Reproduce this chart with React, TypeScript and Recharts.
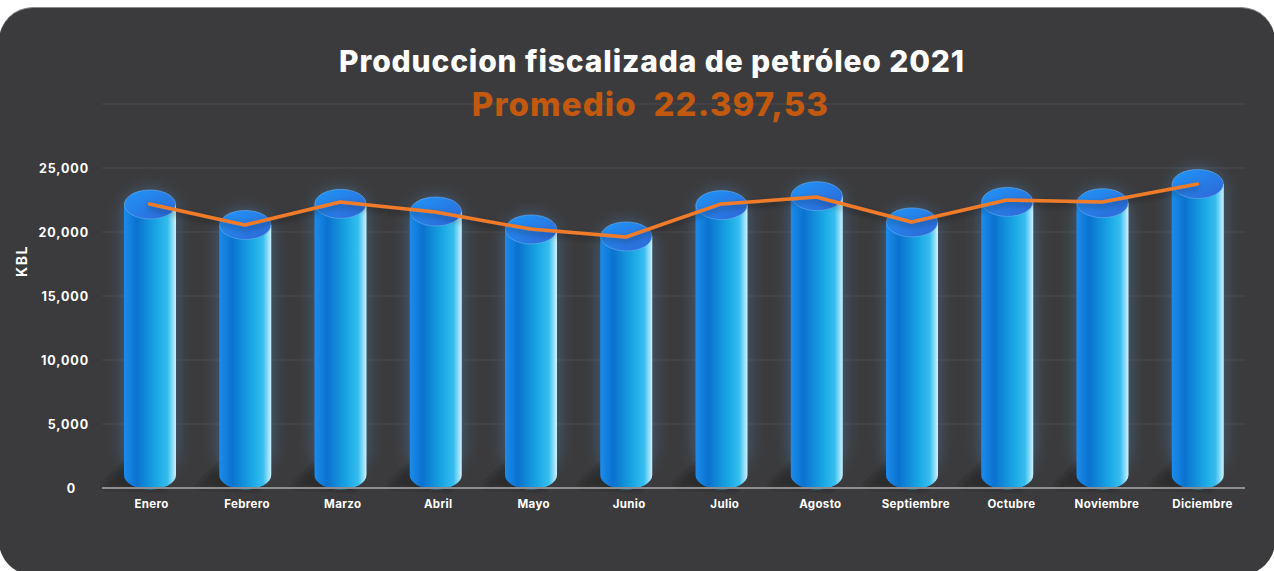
import React from 'react';
import { ComposedChart, Bar, Line, XAxis, YAxis, CartesianGrid } from 'recharts';

const meses = ['Enero', 'Febrero', 'Marzo', 'Abril', 'Mayo', 'Junio', 'Julio', 'Agosto', 'Septiembre', 'Octubre', 'Noviembre', 'Diciembre'];
const barras = [22150, 20550, 22200, 21600, 20200, 19650, 22100, 22800, 20750, 22350, 22250, 23750];
const linea = [22190, 20550, 22340, 21560, 20230, 19610, 22190, 22730, 20780, 22500, 22340, 23750];
const yTicks = [0, 5000, 10000, 15000, 20000, 25000, 30000];

const data = meses.map((mes, i) => ({ mes, barra: barras[i], linea: linea[i] }));

const font = 'Inter, "Open Sans", sans-serif';

// Cilindro 3D: el centro de la tapa queda en el valor
const Cilindro = (props: any) => {
    const { x, y, width, height } = props;
    const rx = width / 2;
    const ry = 14.5;
    const base = y + height - 13;
    const cx = x + rx;
    return (
        <g>
            <path
                d={`M${x + 2},${base - 12} L${x - 22},${base + 10} L${x - 20},${base + 13} L${x + 42},${base + 15} L${x + 40},${base} Z`}
                fill="url(#sombra)"
                filter="url(#blur3)"
            />
            <rect x={x - 2} y={y - ry - 1} width={width + 4} height={base - y + ry} rx={rx} fill="#5cb0ff" opacity={0.28} filter="url(#blur9)" />
            <path
                d={`M${x},${y} L${x},${base} A${rx},${ry} 0 0 0 ${x + width},${base} L${x + width},${y} Z`}
                fill="url(#cuerpo)"
            />
            <ellipse cx={cx} cy={y} rx={rx - 0.4} ry={ry} fill="url(#tapa)" stroke="#6fb4f2" strokeOpacity={0.7} strokeWidth={0.8} />
        </g>
    );
};

const YTick = ({ y, payload }: any) => {
    if (payload.value === 30000) return null;
    return (
        <text
            x={payload.value === 0 ? 76 : 89}
            y={y}
            dy={5}
            textAnchor="end"
            fill="#fff"
            fontFamily={font}
            fontSize={12.5}
            fontWeight={700}
            letterSpacing={0.9}
        >
            {payload.value.toLocaleString('en-US')}
        </text>
    );
};

const XTick = ({ x, y, payload, index }: any) => (
    <text x={x + 2 + index * 0.28} y={y} dy={4} textAnchor="middle" fill="#fff" fontFamily={font} fontSize={11.5} fontWeight={700} letterSpacing={0.35}>
        {payload.value}
    </text>
);

export default function App() {
    return (
        <div style={{ position: 'fixed', left: 0, top: 0, width: 1274, height: 571, overflow: 'hidden', background: '#fff' }}>
            <div
                style={{
                    position: 'absolute',
                    left: -1,
                    top: 7,
                    width: 1276,
                    height: 568,
                    borderRadius: 34,
                    background: '#3b3b3d',
                    borderTop: '1px solid #8a8a8c',
                    boxSizing: 'border-box',
                }}
            />
            <div style={{ position: 'absolute', left: 0, top: 0 }}>
                <ComposedChart width={1274} height={571} data={data} margin={{ top: 104, right: 29, bottom: 53, left: 42 }} barCategoryGap={0}>
                    <defs>
                        <linearGradient id="cuerpo" x1="0" y1="0" x2="1" y2="0">
                            <stop offset="0%" stopColor="#1c8cec" />
                            <stop offset="25%" stopColor="#0a72cf" />
                            <stop offset="62%" stopColor="#18a6e4" />
                            <stop offset="84%" stopColor="#35bdee" />
                            <stop offset="100%" stopColor="#cdf2fd" />
                        </linearGradient>
                        <linearGradient id="tapa" x1="0" y1="0" x2="1" y2="1">
                            <stop offset="0%" stopColor="#1f96f8" />
                            <stop offset="100%" stopColor="#2f66d6" />
                        </linearGradient>
                        <linearGradient id="sombra" x1="0" y1="0" x2="1" y2="0">
                            <stop offset="0%" stopColor="#1f1f20" stopOpacity={0.45} />
                            <stop offset="100%" stopColor="#1f1f20" stopOpacity={0.75} />
                        </linearGradient>
                        <filter id="blur9" x="-60%" y="-20%" width="220%" height="140%">
                            <feGaussianBlur stdDeviation={8} />
                        </filter>
                        <filter id="blur3" x="-30%" y="-30%" width="160%" height="160%">
                            <feGaussianBlur stdDeviation={2} />
                        </filter>
                        <filter id="sombraLinea" x="-5%" y="-50%" width="110%" height="200%">
                            <feDropShadow dx={0} dy={3} stdDeviation={3} floodColor="#000" floodOpacity={0.35} />
                        </filter>
                    </defs>
                    <CartesianGrid vertical={false} stroke="#4b4b4e" strokeWidth={1} />
                    <XAxis
                        dataKey="mes"
                        interval={0}
                        axisLine={{ stroke: '#8e8e90', strokeWidth: 2 }}
                        tickLine={false}
                        tick={<XTick />}
                        tickMargin={10}
                    />
                    <YAxis domain={[0, 30000]} ticks={yTicks} width={60} axisLine={false} tickLine={false} tick={<YTick />} />
                    <Bar dataKey="barra" barSize={52} shape={<Cilindro />} isAnimationActive={false} />
                    <Line
                        dataKey="linea"
                        type="linear"
                        stroke="#f07b2c"
                        strokeWidth={3.5}
                        strokeLinecap="round"
                        strokeLinejoin="round"
                        dot={false}
                        activeDot={false}
                        filter="url(#sombraLinea)"
                        isAnimationActive={false}
                    />
                    <text x={652} y={72} textAnchor="middle" fill="#fff" fontFamily={font} fontSize={30} fontWeight={800} letterSpacing={0.85}>
                        Produccion fiscalizada de petróleo 2021
                    </text>
                    <text x={650.5} y={116} textAnchor="middle" fill="#c2590f" fontFamily={font} fontSize={33} fontWeight={800} letterSpacing={1.1} xmlSpace="preserve">
                        Promedio  22.397,53
                    </text>
                    <text
                        x={27}
                        y={261}
                        textAnchor="middle"
                        fill="#fff"
                        fontFamily={font}
                        fontSize={14}
                        fontWeight={700}
                        letterSpacing={1.5}
                        transform="rotate(-90 27 261)"
                    >
                        KBL
                    </text>
                </ComposedChart>
            </div>
        </div>
    );
}
